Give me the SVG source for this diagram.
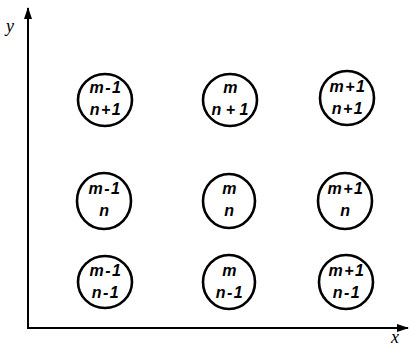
<svg xmlns="http://www.w3.org/2000/svg" width="412" height="346" viewBox="0 0 412 346">
<defs>
<style>
.c{fill:none;stroke:#000;stroke-width:2.6}
.t{font-family:"Liberation Sans",Arial,sans-serif;font-style:italic;font-weight:bold;font-size:16px;letter-spacing:1.5px;fill:#000;text-anchor:middle}
.ax{stroke:#000;stroke-width:2;fill:none}
.lbl{font-family:"Liberation Serif","Times New Roman",serif;font-style:italic;font-size:18px;fill:#000}
</style>
<marker id="ah" viewBox="0 0 12 8" refX="11" refY="4" markerWidth="12" markerHeight="8" markerUnits="userSpaceOnUse" orient="auto">
<path d="M0,0 L12,4 L0,8 Z" fill="#000"/>
</marker>
</defs>
<g id="axes">
<line class="ax" x1="28" y1="329" x2="28" y2="8" marker-end="url(#ah)"/>
<line class="ax" x1="27" y1="328" x2="408" y2="328" marker-end="url(#ah)"/>
<text class="lbl" x="6" y="32">y</text>
<text class="lbl" x="391" y="343">x</text>
</g>
<g id="n-m1-n1"><ellipse class="c" cx="105" cy="100" rx="27" ry="26"/><text class="t" x="106" y="93">m-1</text><text class="t" x="106" y="115">n+1</text></g>
<g id="n-m-n1"><ellipse class="c" cx="230" cy="100" rx="27" ry="26"/><text class="t" x="231" y="93">m</text><text class="t" x="230" y="115" style="letter-spacing:0">n + 1</text></g>
<g id="n-p1-n1"><ellipse class="c" cx="347" cy="98" rx="27" ry="27"/><text class="t" x="348" y="92">m+1</text><text class="t" x="348" y="114">n+1</text></g>
<g id="n-m1-n"><ellipse class="c" cx="104" cy="201" rx="27" ry="28"/><text class="t" x="105" y="194">m-1</text><text class="t" x="105" y="216">n</text></g>
<g id="n-m-n"><ellipse class="c" cx="229" cy="201" rx="26" ry="27"/><text class="t" x="230" y="194">m</text><text class="t" x="230" y="216">n</text></g>
<g id="n-p1-n"><ellipse class="c" cx="345" cy="201" rx="27" ry="28"/><text class="t" x="346" y="194">m+1</text><text class="t" x="346" y="216">n</text></g>
<g id="n-m1-nm1"><ellipse class="c" cx="105" cy="282" rx="27" ry="26"/><text class="t" x="106" y="276">m-1</text><text class="t" x="106" y="298">n-1</text></g>
<g id="n-m-nm1"><ellipse class="c" cx="229" cy="282" rx="26" ry="27"/><text class="t" x="230" y="276">m</text><text class="t" x="230" y="298">n-1</text></g>
<g id="n-p1-nm1"><ellipse class="c" cx="346" cy="282" rx="27" ry="27"/><text class="t" x="347" y="276">m+1</text><text class="t" x="347" y="298">n-1</text></g>
<g id="connectors"></g>
</svg>
